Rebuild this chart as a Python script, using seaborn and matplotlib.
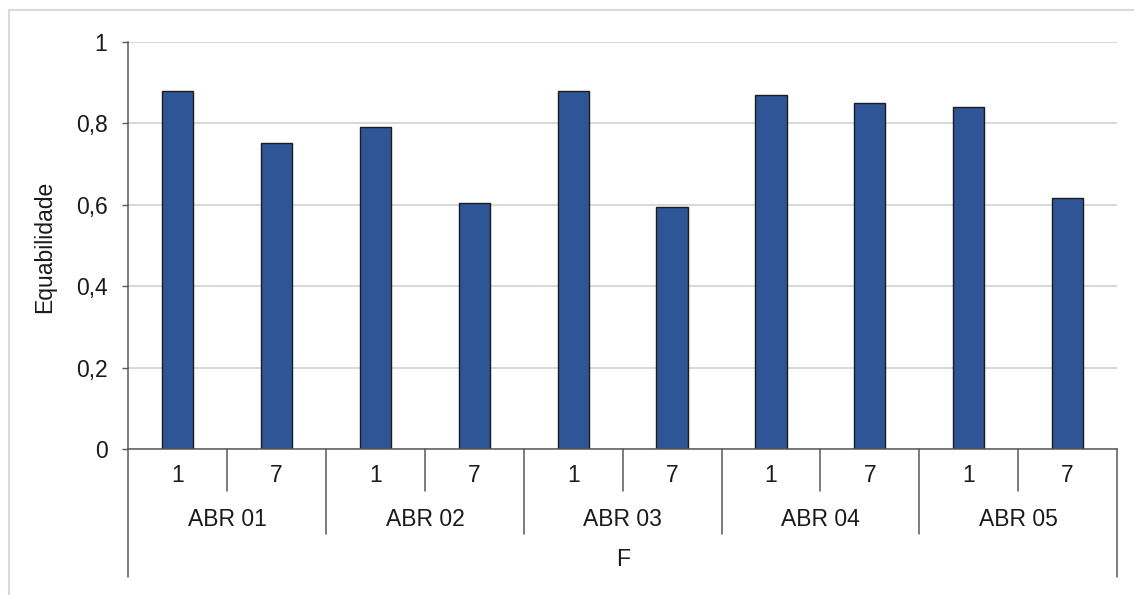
import matplotlib
matplotlib.use("Agg")
import matplotlib.pyplot as plt
import matplotlib.transforms as mtransforms
from matplotlib.patches import Rectangle
import pandas as pd
import seaborn as sns

# Data
groups = ["ABR 01", "ABR 02", "ABR 03", "ABR 04", "ABR 05"]
days = ["1", "7"]
equab_day1 = [0.879, 0.790, 0.879, 0.870, 0.839]
equab_day7 = [0.752, 0.604, 0.595, 0.849, 0.617]
y_ticks = [0, 0.2, 0.4, 0.6, 0.8, 1.0]
y_tick_labels = ["0", "0,2", "0,4", "0,6", "0,8", "1"]
y_title = "Equabilidade"
x_title = "F"

rows = []
for g, v1, v7 in zip(groups, equab_day1, equab_day7):
    rows.append({"grupo": g, "dia": days[0], "valor": v1})
    rows.append({"grupo": g, "dia": days[1], "valor": v7})
df = pd.DataFrame(rows)
df["cat"] = df["grupo"] + " | " + df["dia"]
order = list(df["cat"])

sns.set_theme(style="white")
plt.rcParams["font.family"] = ["Liberation Sans", "DejaVu Sans"]
FS = 16.5
TEXT_C = "#1a1a1a"
AXIS_C = "#595959"

W, H = 1134, 595
fig = plt.figure(figsize=(W / 100, H / 100), dpi=100)
fig.patch.set_facecolor("white")

# chart-area border (open to the right and bottom)
fig.add_artist(Rectangle((9 / W, -0.05), 1.1, 1 - 10 / H + 0.05,
                         transform=fig.transFigure, fill=False,
                         edgecolor="#d9d9d9", linewidth=1.5))

left, right = 128.3 / W, 1117 / W
bottom, top = 1 - 449.3 / H, 1 - 41.7 / H
ax = fig.add_axes([left, bottom, right - left, top - bottom])

sns.barplot(data=df, x="cat", y="valor", order=order, color="#2E5595",
            width=0.317, edgecolor="#1c1c1c", linewidth=1.0,
            saturation=1, ax=ax, zorder=3)

ax.set_xlim(-0.5, len(order) - 0.5)
ax.set_ylim(0, 1)
ax.set_yticks(y_ticks)
ax.set_yticklabels(y_tick_labels, fontsize=FS, color=TEXT_C)
ax.tick_params(axis="y", length=4, width=1.0, color=AXIS_C, pad=11, left=True)
ax.set_xticks([])
ax.set_xlabel("")
ax.set_ylabel("")
ax.grid(axis="y", color="#d9d9d9", linewidth=1.5, zorder=0)
ax.set_axisbelow(True)

for s in ["top", "right"]:
    ax.spines[s].set_visible(False)
for s in ["left", "bottom"]:
    ax.spines[s].set_color(AXIS_C)
    ax.spines[s].set_linewidth(1.1)
    ax.spines[s].set_zorder(4)

# multi-level category axis
trans = mtransforms.blended_transform_factory(ax.transData, ax.transAxes)
px = 407.6
def ay(ypix):
    return (449.3 - ypix) / px

line_kw = dict(color=AXIS_C, linewidth=1.1, transform=trans, clip_on=False)
n = len(order)
for i in range(len(groups)):
    xi = 2 * i + 0.5
    ax.plot([xi, xi], [0, ay(491)], **line_kw)
for i in range(1, len(groups)):
    xg = 2 * i - 0.5
    ax.plot([xg, xg], [0, ay(534)], **line_kw)
for xo in [-0.5, n - 0.5]:
    ax.plot([xo, xo], [0, ay(577)], **line_kw)

for j, cat in enumerate(order):
    ax.text(j, ay(476), df["dia"].iloc[j], transform=trans, ha="center",
            va="center", fontsize=FS, color=TEXT_C)
for i, g in enumerate(groups):
    ax.text(2 * i + 0.5, ay(519), g, transform=trans, ha="center",
            va="center", fontsize=FS, color=TEXT_C)
ax.text((n - 1) / 2, ay(560), x_title, transform=trans, ha="center",
        va="center", fontsize=FS, color=TEXT_C)

fig.text(45 / W, 1 - 246.5 / H, y_title, rotation=90, ha="center",
         va="center", fontsize=FS, color=TEXT_C)

fig.savefig("out.png", dpi=100, facecolor="white")
